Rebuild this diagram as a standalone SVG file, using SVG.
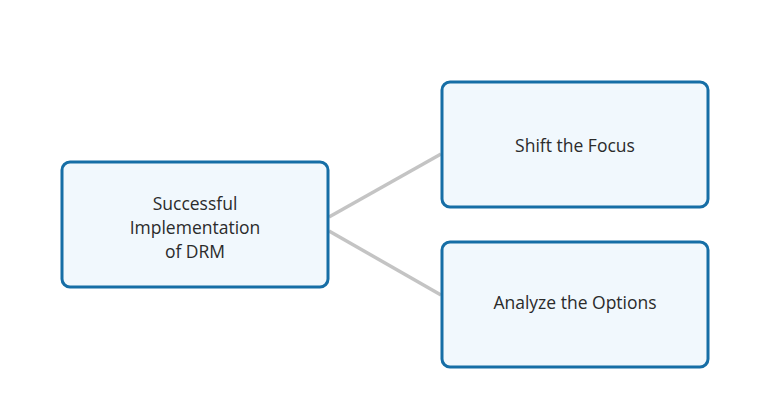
<svg xmlns="http://www.w3.org/2000/svg" width="770" height="410" viewBox="0 0 770 410">
<style>
.box{fill:#f1f8fd;stroke:#166ea6;stroke-width:3}
.lbl{font-family:"Open Sans","Liberation Sans",sans-serif;font-size:17.5px;fill:#2b2b2b;text-anchor:middle}
.conn{stroke:#c4c4c4;stroke-width:3.5;fill:none}
</style>
<rect width="770" height="410" fill="#ffffff"/>
<g id="connectors">
<line class="conn" x1="329" y1="217" x2="441" y2="154"/>
<line class="conn" x1="329" y1="231" x2="441" y2="295"/>
</g>
<g id="node-root">
<rect class="box" x="62" y="162" width="266" height="125" rx="8"/>
<text class="lbl" x="195" y="210">Successful</text>
<text class="lbl" x="195" y="234">Implementation</text>
<text class="lbl" x="195" y="258">of DRM</text>
</g>
<g id="node-shift">
<rect class="box" x="442" y="82" width="266" height="125" rx="8"/>
<text class="lbl" x="575" y="152">Shift the Focus</text>
</g>
<g id="node-analyze">
<rect class="box" x="442" y="242" width="266" height="125" rx="8"/>
<text class="lbl" x="575" y="309">Analyze the Options</text>
</g>
</svg>
